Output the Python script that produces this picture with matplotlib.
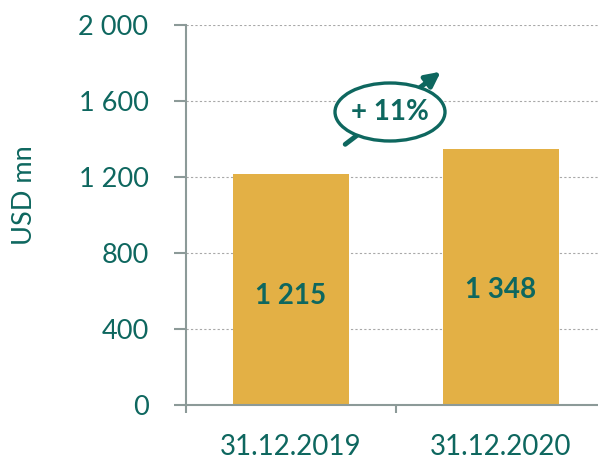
import matplotlib.pyplot as plt
from matplotlib.patches import Ellipse

categories = ["31.12.2019", "31.12.2020"]
values = [1215, 1348]
bar_labels = ["1 215", "1 348"]
label_y = [574, 605]
y_ticks = [0, 400, 800, 1200, 1600, 2000]
y_tick_labels = ["0", "400", "800", "1 200", "1 600", "2 000"]
growth_label = "+ 11%"

teal = '#0E675F'
gold = '#E3B045'
axis_grey = '#8C9A98'

plt.rcParams['font.family'] = ['Lato', 'DejaVu Sans']

fig = plt.figure(figsize=(5.98, 4.59), dpi=100)
# axes runs past the right edge, like the original slide crop
ax = fig.add_axes([186/598, 1 - 405/459, 420/598, 380/459])

x = range(len(categories))
ax.bar(x, values, width=0.557, color=gold, zorder=2)
ax.set_xlim(-0.5, 1.5)
ax.set_ylim(0, 2000)

for xi, ly, lab in zip(x, label_y, bar_labels):
    ax.text(xi, ly, lab, ha='center', va='center',
            fontsize=20, fontweight='bold', color=teal, zorder=3)

ax.set_yticks(y_ticks)
ax.set_yticklabels(y_tick_labels)
ax.set_xticks([-0.5, 0.5, 1.5], minor=False)
ax.set_xticklabels([])
ax.set_xticks(list(x), minor=True)
ax.set_xticklabels(categories, minor=True)
ax.tick_params(axis='x', which='minor', length=0, pad=21, labelsize=20, labelcolor=teal)
ax.tick_params(axis='x', which='major', length=6, width=1.5, color=axis_grey, direction='out')
ax.tick_params(axis='y', length=9, width=1.5, color=axis_grey, labelsize=19.5, labelcolor=teal, pad=18)

ax.grid(True, axis='y', color='#A8A8A8', linestyle=(0, (2, 2)), linewidth=0.8, zorder=0)
for s in ['top', 'right']:
    ax.spines[s].set_visible(False)
for s in ['left', 'bottom']:
    ax.spines[s].set_color(axis_grey)
    ax.spines[s].set_linewidth(1.5)
fig.text(25/598, 1 - 195/459, "USD mn", rotation=90, ha='center', va='center',
         fontsize=19.5, color=teal)

# growth badge: arrow + ellipse, in figure pixel coords
ax.annotate('', xy=(443/598, 1 - 70/459), xytext=(343/598, 1 - 146/459),
            xycoords='figure fraction', textcoords='figure fraction',
            arrowprops=dict(arrowstyle='-|>', color=teal, lw=3.5, mutation_scale=22))
ell = Ellipse((390/598, 1 - 112/459), 110/598, 58/459, transform=fig.transFigure,
              facecolor='white', edgecolor=teal, linewidth=2.4, zorder=5)
fig.patches.append(ell)
fig.text(390/598, 1 - 112/459, growth_label, ha='center', va='center',
         fontsize=20, fontweight='bold', color=teal, zorder=6)

fig.savefig('out.png', dpi=100)
